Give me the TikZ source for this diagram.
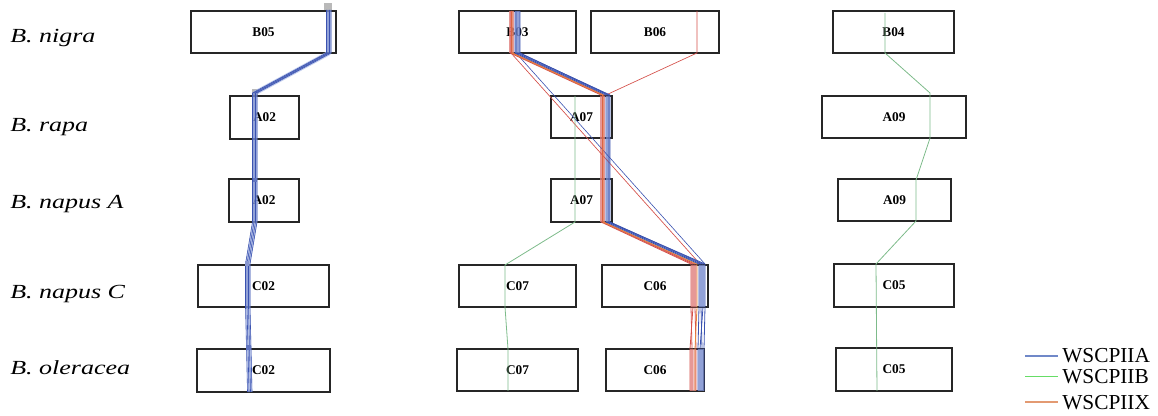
\documentclass[tikz,border=0pt]{standalone}
\usepackage{fontspec}
\setmainfont{Liberation Serif}
\newfontfamily\labfont[FakeStretch=1.3]{Liberation Serif}
\definecolor{lnblue}{HTML}{3A52B0}
\definecolor{ltblue}{HTML}{A8B8E6}
\definecolor{lnred}{HTML}{D4504A}
\definecolor{ltred}{HTML}{EBA5A5}
\definecolor{lnorange}{HTML}{E8863A}
\definecolor{lngreen}{HTML}{7DBB8A}
\definecolor{lgblue}{HTML}{7088C8}
\definecolor{lggreen}{HTML}{66DD66}
\definecolor{lgorange}{HTML}{E39A72}
\begin{document}
\begin{tikzpicture}[x=0.75pt,y=-0.75pt,
  chrbox/.style={draw=black!85, line width=1.1pt, inner sep=0pt, font=\bfseries\fontsize{10}{12}\selectfont},
  sp/.style={anchor=base west, inner sep=0pt, font=\labfont\itshape\fontsize{15}{18}\selectfont},
  lg/.style={anchor=base west, inner sep=0pt, font=\fontsize{16}{19}\selectfont},
  bl/.style={lnblue, line width=0.45pt, line join=round},
  rd/.style={lnred, line width=0.5pt, line join=round},
  gr/.style={lngreen, line width=0.6pt, line join=round},
  under/.style={line width=3.5pt, opacity=0.7, line join=round}]
\useasboundingbox (0,0) rectangle (1158,416);
\newcommand\chrom[6]{\node[chrbox, minimum width={(#4-#2)*0.75pt}, minimum height={(#5-#3)*0.75pt}] (#1) at ({(#2+#4)/2},{(#3+#5)/2}) {#6};}
% species labels
\node[sp] (Lnigra) at (10,43) {B. nigra};
\node[sp] (Lrapa) at (10,132) {B. rapa};
\node[sp] (LnapA) at (10,209) {B. napus A};
\node[sp] (LnapC) at (10,299) {B. napus C};
\node[sp] (Lole) at (10,375) {B. oleracea};
% chromosome boxes
\chrom{B05}{191}{11}{336}{53}{B05}
\chrom{B03}{459}{11}{576}{53}{B03}
\chrom{B06}{591}{11}{719}{53}{B06}
\chrom{B04}{833}{11}{954}{53}{B04}
\chrom{A02r}{230}{96}{299}{139}{A02}
\chrom{A07r}{551}{96}{612}{138}{A07}
\chrom{A09r}{822}{96}{966}{138}{A09}
\chrom{A02n}{229}{179}{299}{222}{A02}
\chrom{A07n}{551}{179}{612}{222}{A07}
\chrom{A09n}{838}{179}{951}{221}{A09}
\chrom{C02n}{198}{265}{329}{307}{C02}
\chrom{C07n}{459}{265}{576}{307}{C07}
\chrom{C06n}{602}{265}{708}{307}{C06}
\chrom{C05n}{834}{264}{954}{307}{C05}
\chrom{C02o}{197}{349}{330}{392}{C02}
\chrom{C07o}{457}{349}{578}{391}{C07}
\chrom{C06o}{606}{349}{704}{391}{C06}
\chrom{C05o}{836}{348}{952}{391}{C05}
% left group (blue bundle)
\fill[gray!55] (324,3) rectangle (332,10);
\fill[gray!55] (252,89) rectangle (258,95);
\draw[under, ltblue] (329,10)--(329,53)--(255,93)--(255,222)--(248,264)--(248,307)--(249,348)--(250,392);
\foreach \d in {-2.5,-1,0.5,2}
  \draw[bl, xshift=\d*0.75pt] (329,10)--(329,53)--(255,93)--(255,222)--(248,264)--(248,307)--(249,348)--(250,392);
\fill[lnblue!80] (253,178) rectangle (257,182);
\fill[lnblue!60] (245,261) rectangle (249,266);
\fill[lnblue!80] (246,345) rectangle (251,350);
% middle group underlays
\draw[under, ltred] (511.5,11)--(511.5,53);
\draw[under, ltblue] (517.5,11)--(517.5,53);
\draw[under, ltred] (602.5,96)--(602.5,222);
\draw[under, ltblue] (608,96)--(608,222);
\draw[under, ltred, line width=5pt] (694,265)--(694,307);
\draw[under, ltblue, line width=5pt] (702,265)--(702,307);
\draw[under, ltred, line width=5pt] (693,349)--(693,391);
\draw[under, ltblue, line width=5pt] (701,349)--(701,391);
% thin diagonals B03 -> C06
\draw[rd] (511,11)--(511,53)--(700,264);
\draw[bl] (516,11)--(516,53)--(705,264);
% B06 -> A07
\draw[rd] (697,11)--(697,53)--(606,95);
% main bundle B03 -> A07 -> A07 -> C06 -> C06
\foreach \a/\b/\c/\e in {510/601/691/692, 511.5/602.5/693/690, 513/604/695/696}
  \draw[rd, line width=0.6pt] (\a,11)--(\a,53)--(\b,95)--(\b,222)--(\c,264)--(\c,307)--(\e,349)--(\e,391);
\draw[lnorange, line width=0.6pt] (512,11)--(512,53)--(603,95)--(603,222)--(697,264)--(697,307)--(695,349)--(695,391);
\foreach \a/\b/\c/\e in {515/606/699/698, 517/608/701/702, 519/610/703/700, 520/609/705/704}
  \draw[bl, line width=0.6pt] (\a,11)--(\a,53)--(\b,95)--(\b,222)--(\c,264)--(\c,307)--(\e,349)--(\e,391);
% green middle
\draw[gr] (575,96)--(575,222)--(505,265)--(505,307)--(508,349)--(508,391);
% green right
\draw[gr] (885,13)--(885,53)--(930,93)--(930,138)--(916,180)--(916,221)--(876,264)--(877,391);
% legend
\coordinate (k1a) at (1025,356); \coordinate (k1b) at (1058,356);
\coordinate (k2a) at (1025,376.5); \coordinate (k2b) at (1058,376.5);
\coordinate (k3a) at (1025,402); \coordinate (k3b) at (1058,402);
\draw[lgblue, line width=0.8pt] (k1a)--(k1b);
\draw[lggreen, line width=0.8pt] (k2a)--(k2b);
\draw[lgorange, line width=0.8pt] (k3a)--(k3b);
\node[lg] (t1) at (1062,363) {WSCPIIA};
\node[lg] (t2) at (1062,384) {WSCPIIB};
\node[lg] (t3) at (1062,410) {WSCPIIX};
\end{tikzpicture}
\end{document}
